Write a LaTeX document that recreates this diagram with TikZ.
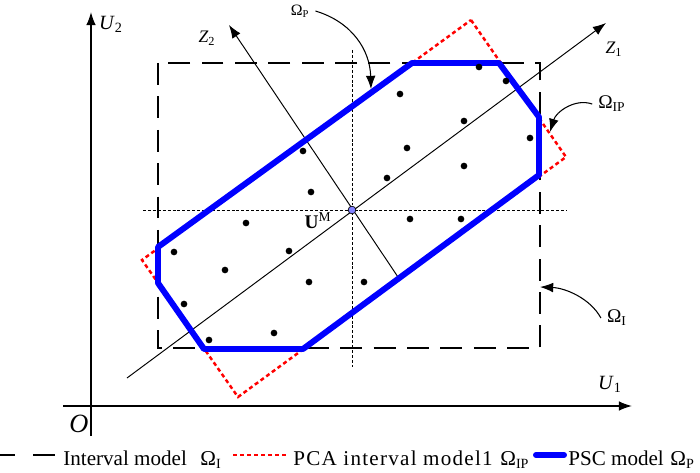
\documentclass[tikz,border=0pt]{standalone}
\usepackage{fontspec}
\setmainfont{Liberation Serif}
\usetikzlibrary{arrows.meta}
\definecolor{umfill}{RGB}{130,130,255}
\newcommand{\omsub}[1]{Ω\textsubscript{#1}}
\begin{document}
\begin{tikzpicture}[x=0.02cm,y=-0.02cm,>={Latex[length=7.5pt,width=5.5pt]},
        font=\fontsize{11}{13}\selectfont,
        axisline/.style={line width=0.8pt},
        pcaaxis/.style={line width=0.55pt},
        crossline/.style={line width=0.5pt,dash pattern=on 1.7pt off 1.1pt},
        intervalbox/.style={line width=1.7pt,dash pattern=on 12.5pt off 6.5pt},
        pcabox/.style={red,line width=1.4pt,dash pattern=on 2.3pt off 1.7pt},
        pscbox/.style={blue,line width=3.4pt,line join=round},
        axislabel/.style={font=\fontsize{11.5}{13}\selectfont},
        legendtext/.style={anchor=base west,inner sep=0pt,font=\fontsize{12}{14}\selectfont}]
    \useasboundingbox (0,0) rectangle (700,473);
    % U axes
    \coordinate (u1start) at (63,406);
    \coordinate (u1end) at (632,406);
    \coordinate (u2start) at (91,436);
    \coordinate (u2end) at (91,12);
    \draw[axisline,->] (u1start)--(u1end);
    \draw[axisline,->] (u2start)--(u2end);
    \node[axislabel] (u1lab) at (610,384) {\textit{U}\textsubscript{1}};
    \node[axislabel] (u2lab) at (111,24) {\textit{U}\textsubscript{2}};
    \node[font=\fontsize{15}{17}\selectfont] (olab) at (79,424) {\textit{O}};
    % interval model
    \draw[intervalbox] (158,63) rectangle (540,348);
    % lines through U^M
    \coordinate (um) at (352,210);
    \draw[crossline] (143,210)--(567,210);
    \draw[crossline] (352,50)--(352,367);
    % principal axes
    \coordinate (z1start) at (127,378);
    \coordinate (z1end) at (606,23);
    \coordinate (z2start) at (398,277);
    \coordinate (z2end) at (229,25);
    \draw[pcaaxis,->] (z1start)--(z1end);
    \draw[pcaaxis,->] (z2start)--(z2end);
    \node[font=\fontsize{10}{12}\selectfont] (z1lab) at (614,49) {\textit{Z}\textsubscript{1}};
    \node[font=\fontsize{10}{12}\selectfont] (z2lab) at (207,38) {\textit{Z}\textsubscript{2}};
    % PCA interval model
    \draw[pcabox] (471,20)--(566,157)--(238,397)--(142,260)--cycle;
    % PSC model
    \draw[pscbox] (412,63)--(499,63)--(539,117)--(539,175)--(303,349)--(204,349)--(158,283)--(158,247)--cycle;
    % samples
    \foreach \p in {(479,67),(506,81),(400,94),(464,121),(530,138),(407,148),(303,151),
        (464,166),(387,178),(311,192),(410,219),(461,219),(246,223),(174,252),(289,251),
        (225,270),(309,282),(364,282),(184,304),(274,333),(209,340)}
        \fill \p circle (1.9pt);
    \filldraw[fill=umfill,line width=0.4pt] (um) circle (2.2pt);
    \node (umlab) at (318,221) {\textbf{U}\textsuperscript{M}};
    % model labels
    \node[font=\fontsize{9}{11}\selectfont] (omp) at (300,11) {\omsub{P}};
    \node (omip) at (612,104) {\omsub{IP}};
    \node (omi) at (617,318) {\omsub{I}};
    \coordinate (omptip) at (371,89);
    \coordinate (omiptip) at (550,132);
    \coordinate (omitip) at (540,287);
    \draw[->,line width=0.6pt] (omp.east) .. controls (352,22) and (370,50) .. (omptip);
    \draw[->,line width=0.6pt] (omip.west) .. controls (575,98) and (556,112) .. (omiptip);
    \draw[->,line width=0.6pt] (omi.west) .. controls (590,298) and (565,288) .. (omitip);
    % legend
    \draw[line width=1.7pt] (0,455)--(15,455) (33,455)--(55,455);
    \node[legendtext] (legint) at (63,465) {Interval model};
    \node[legendtext] (legintom) at (200,465) {\omsub{I}};
    \draw[pcabox] (233,455)--(287,455);
    \node[legendtext] (legpca) at (293,465) {\addfontfeature{LetterSpace=6}PCA interval model1};
    \node[legendtext] (legpcaom) at (500,465) {\omsub{IP}};
    \draw[pscbox,line cap=round] (536,455)--(564,455);
    \node[legendtext] (legpsc) at (568,465) {PSC model};
    \node[legendtext] (legpscom) at (670,465) {\omsub{P}};
\end{tikzpicture}
\end{document}
